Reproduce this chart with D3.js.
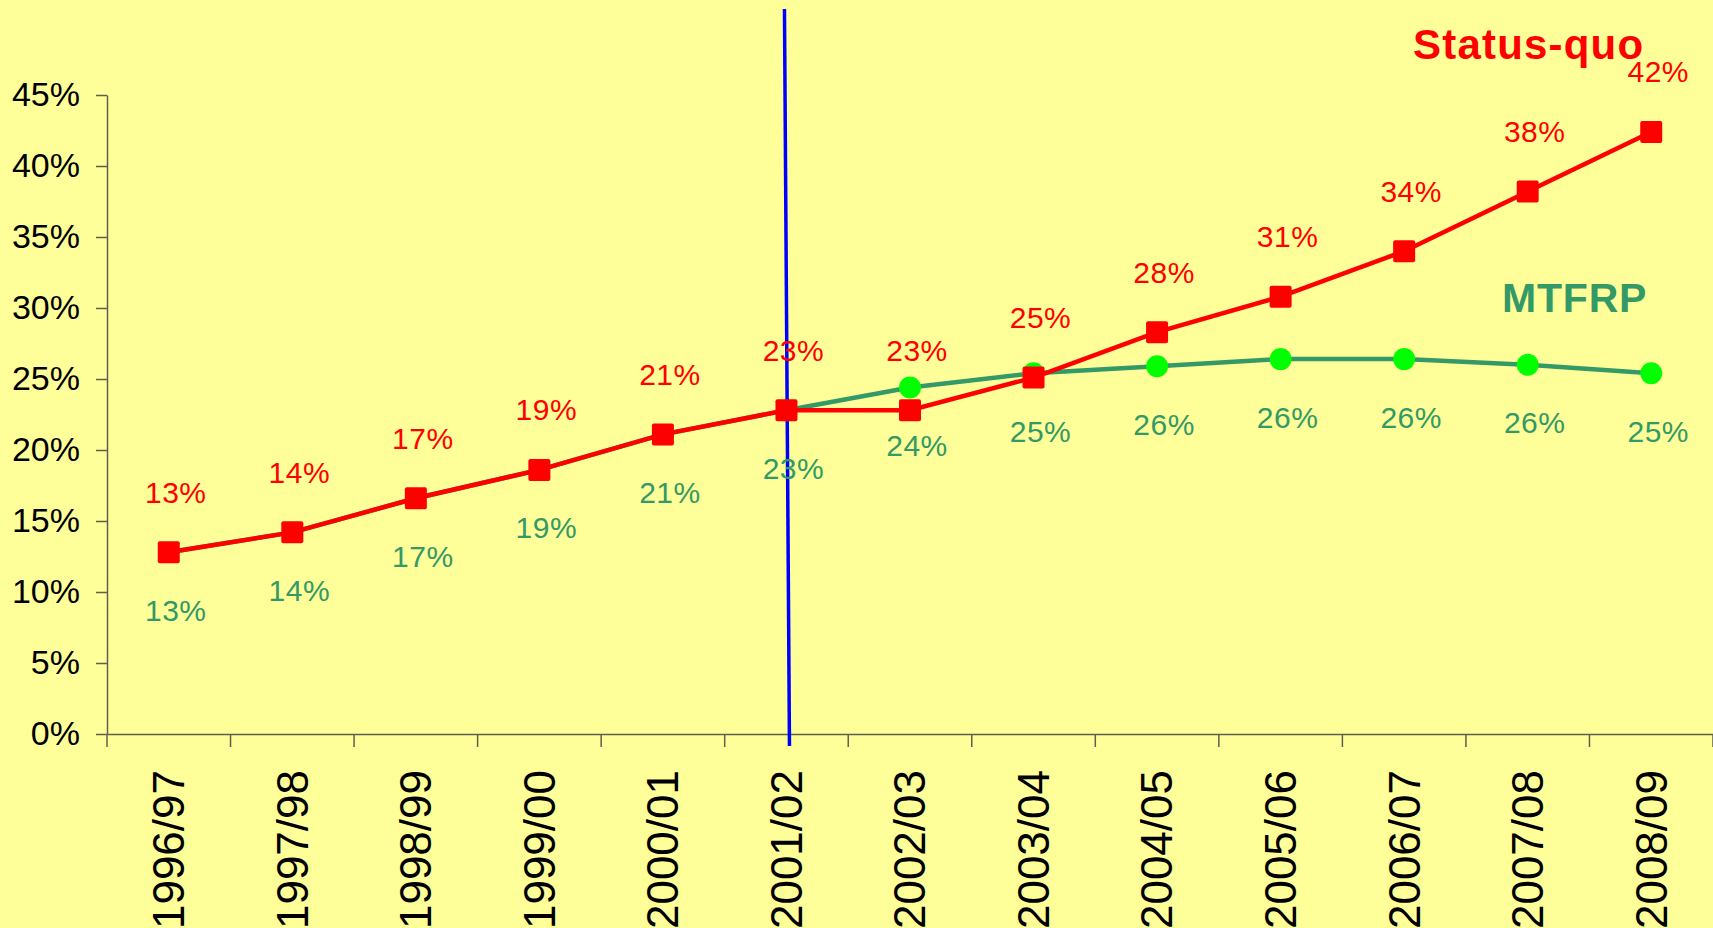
<!DOCTYPE html>
<html>
<head>
<meta charset="utf-8">
<script src="https://cdn.jsdelivr.net/npm/d3@7"></script>
<style>
  html, body { margin: 0; padding: 0; background: #FFFF99; overflow: hidden; }
  svg { display: block; }
  text { font-family: Arial, "Liberation Sans", sans-serif; }
</style>
</head>
<body>
<svg id="chart" width="1713" height="928"></svg>
<script>
// ---- data ----
const categories = ["1996/97","1997/98","1998/99","1999/00","2000/01","2001/02","2002/03","2003/04","2004/05","2005/06","2006/07","2007/08","2008/09"];
const statusQuo = [0.128, 0.142, 0.166, 0.186, 0.211, 0.228, 0.228, 0.251, 0.283, 0.308, 0.340, 0.382, 0.424];
const mtfrp     = [0.128, 0.142, 0.166, 0.186, 0.211, 0.228, 0.244, 0.254, 0.259, 0.264, 0.264, 0.260, 0.254];
const mtfrpMarkerFrom = "2002/03";
const yTicks = [0, 0.05, 0.10, 0.15, 0.20, 0.25, 0.30, 0.35, 0.40, 0.45];
const dividerCategory = "2001/02";
const seriesNames = ["Status-quo", "MTFRP"];

// ---- layout ----
const W = 1713, H = 928;
const plotLeft = 107, plotRight = 1713, plotTop = 95, plotBottom = 734;
const svg = d3.select("#chart");
svg.append("rect").attr("width", W).attr("height", H).attr("fill", "#FFFF99");

const x = d3.scaleBand().domain(categories).range([plotLeft, plotRight]).padding(0);
const y = d3.scaleLinear().domain([0, 0.45]).range([plotBottom, plotTop]);
const cx = c => x(c) + x.bandwidth() / 2;
const axisColor = "#5f5f4f";

// y axis
const yAxis = svg.append("g").attr("transform", `translate(${plotLeft},0)`)
  .call(d3.axisLeft(y).tickValues(yTicks).tickFormat(d3.format(".0%")).tickSizeInner(11).tickSizeOuter(0).tickPadding(16));
yAxis.select(".domain").attr("stroke", axisColor).attr("stroke-width", 1.5);
yAxis.selectAll(".tick line").attr("stroke", axisColor).attr("stroke-width", 1.5);
yAxis.selectAll(".tick text").attr("font-size", 34).attr("fill", "#000").attr("font-family", "Arial, 'Liberation Sans', sans-serif");

// x axis
const xAxis = svg.append("g").attr("transform", `translate(0,${plotBottom})`)
  .call(d3.axisBottom(x).tickSize(0).tickSizeOuter(0));
xAxis.select(".domain").attr("stroke", axisColor).attr("stroke-width", 1.5);
xAxis.selectAll(".tick text")
  .attr("font-size", 44).attr("fill", "#000")
  .attr("font-family", "Arial, 'Liberation Sans', sans-serif")
  .attr("text-anchor", "end")
  .attr("transform", "rotate(-90)")
  .attr("x", -36).attr("y", 0).attr("dy", "0.35em");
// category boundary ticks
const bounds = categories.map(c => x(c)).concat([x.range()[1]]);
svg.append("g").selectAll("line").data(bounds).join("line")
  .attr("x1", d => d).attr("x2", d => d)
  .attr("y1", plotBottom).attr("y2", plotBottom + 13)
  .attr("stroke", axisColor).attr("stroke-width", 1.5);

// divider (blue line)
svg.append("line")
  .attr("x1", cx(dividerCategory) - 2).attr("y1", 9)
  .attr("x2", cx(dividerCategory) + 3).attr("y2", plotBottom + 12)
  .attr("stroke", "#0000FF").attr("stroke-width", 3.5);

const line = d3.line().x((d, i) => cx(categories[i])).y(d => y(d));

// MTFRP line
svg.append("path").datum(mtfrp).attr("d", line)
  .attr("fill", "none").attr("stroke", "#339966").attr("stroke-width", 4.5);
const startIdx = categories.indexOf(mtfrpMarkerFrom);
svg.append("g").selectAll("circle")
  .data(mtfrp.map((v, i) => ({v, i})).filter(d => d.i >= startIdx))
  .join("circle")
  .attr("cx", d => cx(categories[d.i])).attr("cy", d => y(d.v)).attr("r", 11)
  .attr("fill", "#00FF00");

// Status-quo line
svg.append("path").datum(statusQuo).attr("d", line)
  .attr("fill", "none").attr("stroke", "#FF0000").attr("stroke-width", 4.5);
svg.append("g").selectAll("rect")
  .data(statusQuo.map((v, i) => ({v, i})))
  .join("rect")
  .attr("x", d => cx(categories[d.i]) - 11).attr("y", d => y(d.v) - 11)
  .attr("width", 22).attr("height", 22).attr("rx", 2)
  .attr("fill", "#FF0000");

const pct = v => Math.round(v * 100) + "%";

// data labels
svg.append("g").selectAll("text")
  .data(statusQuo.map((v, i) => ({v, i})))
  .join("text")
  .attr("x", d => cx(categories[d.i]) + 7).attr("y", d => y(d.v) - 60)
  .attr("dy", "0.35em").attr("text-anchor", "middle")
  .attr("font-size", 30).attr("letter-spacing", 0.5).attr("fill", "#FF0000")
  .text(d => pct(d.v));
svg.append("g").selectAll("text")
  .data(mtfrp.map((v, i) => ({v, i})))
  .join("text")
  .attr("x", d => cx(categories[d.i]) + 7).attr("y", d => y(d.v) + 58)
  .attr("dy", "0.35em").attr("text-anchor", "middle")
  .attr("font-size", 30).attr("letter-spacing", 0.5).attr("fill", "#339966")
  .text(d => pct(d.v));

// series names
svg.append("text").attr("x", 1413).attr("y", 44).attr("dy", "0.35em")
  .attr("font-size", 42).attr("font-weight", "bold").attr("letter-spacing", 1.2).attr("fill", "#FF0000")
  .text(seriesNames[0]);
svg.append("text").attr("x", 1502).attr("y", 298).attr("dy", "0.35em")
  .attr("font-size", 41).attr("font-weight", "bold").attr("letter-spacing", 0.8).attr("fill", "#339966")
  .text(seriesNames[1]);
</script>
</body>
</html>
